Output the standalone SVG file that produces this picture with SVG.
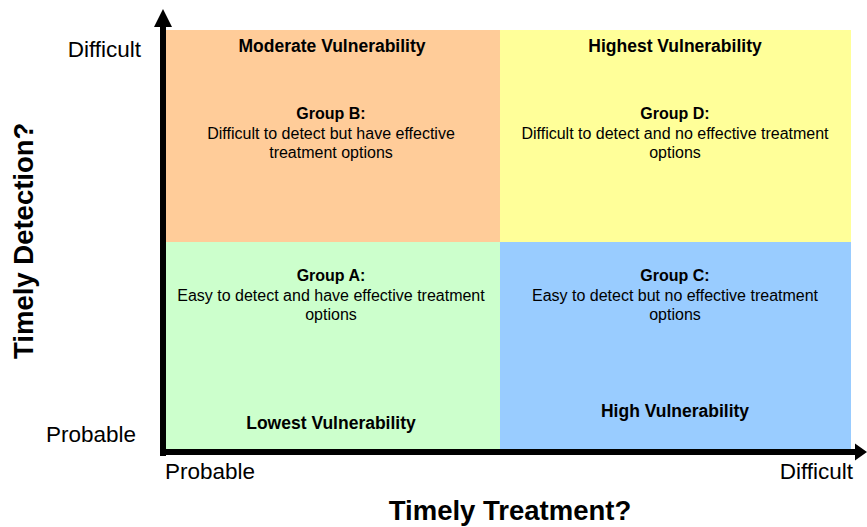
<svg xmlns="http://www.w3.org/2000/svg" width="867" height="527" viewBox="0 0 867 527">
<style>
text{font-family:"Liberation Sans",Arial,sans-serif;fill:#000}
.vul{font-size:17.5px;font-weight:bold;text-anchor:middle}
.grp{font-size:16px;text-anchor:middle}
.grp .h{font-weight:bold}
.tick{font-size:22.5px}
.title{font-size:27.5px;font-weight:bold;text-anchor:middle}
.axis{fill:#000;stroke:none}
</style>
<rect width="867" height="527" fill="#fff"/>
<g id="quadB">
<rect x="166" y="30" width="334" height="212" fill="#FFCC99"/>
<text class="vul" x="332" y="52">Moderate Vulnerability</text>
<text class="grp"><tspan class="h" x="331" y="119.3">Group B:</tspan><tspan x="331" y="138.5">Difficult to detect but have effective</tspan><tspan x="331" y="157.5">treatment options</tspan></text>
</g>
<g id="quadD">
<rect x="500" y="30" width="351" height="212" fill="#FFFF99"/>
<text class="vul" x="675" y="52">Highest Vulnerability</text>
<text class="grp"><tspan class="h" x="675" y="119.3">Group D:</tspan><tspan x="675" y="138.5">Difficult to detect and no effective treatment</tspan><tspan x="675" y="157.5">options</tspan></text>
</g>
<g id="quadA">
<rect x="166" y="242" width="334" height="207" fill="#CCFFCC"/>
<text class="grp"><tspan class="h" x="331" y="281">Group A:</tspan><tspan x="331" y="300.5">Easy to detect and have effective treatment</tspan><tspan x="331" y="319.5">options</tspan></text>
<text class="vul" x="331" y="429">Lowest Vulnerability</text>
</g>
<g id="quadC">
<rect x="500" y="242" width="351" height="207" fill="#99CCFF"/>
<text class="grp"><tspan class="h" x="675" y="281">Group C:</tspan><tspan x="675" y="300.5">Easy to detect but no effective treatment</tspan><tspan x="675" y="319.5">options</tspan></text>
<text class="vul" x="675" y="417.3">High Vulnerability</text>
</g>
<g id="axes">
<rect class="axis" x="160" y="26" width="6" height="430"/>
<polygon class="axis" points="154,27 163,9 172,27"/>
<rect class="axis" x="160" y="449" width="696" height="6"/>
<polygon class="axis" points="855,443.5 867,452 855,460.5"/>
</g>
<g id="labels">
<text class="tick" x="141" y="56.7" text-anchor="end">Difficult</text>
<text class="tick" x="136" y="441.7" text-anchor="end">Probable</text>
<text class="tick" x="165" y="479">Probable</text>
<text class="tick" x="853" y="479" text-anchor="end">Difficult</text>
<text class="title" x="510" y="520">Timely Treatment?</text>
<text class="title" transform="translate(33,240.8) rotate(-90)" x="0" y="0" font-size="28.5">Timely Detection?</text>
</g>
</svg>
